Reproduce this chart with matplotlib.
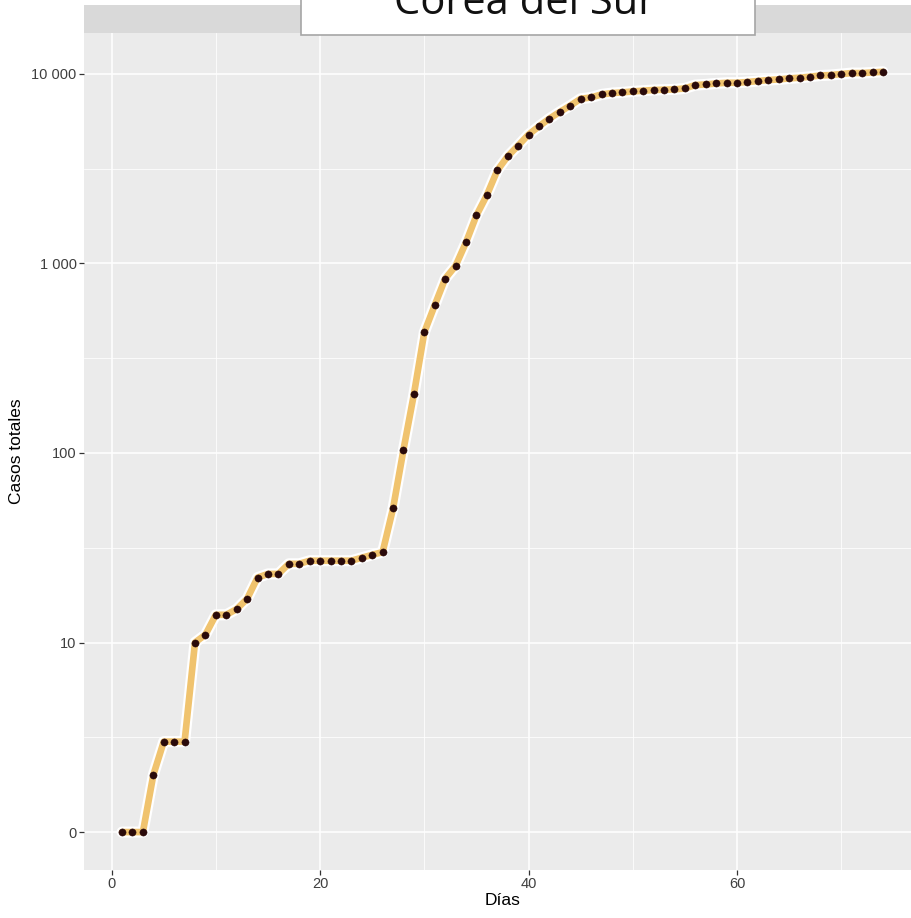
import matplotlib
matplotlib.use("Agg")
import matplotlib.pyplot as plt
from matplotlib.patches import Rectangle
from matplotlib.ticker import FixedLocator, NullFormatter

# Cumulative confirmed cases, South Korea, by day since first record
days = list(range(1, 75))
cases = [1, 1, 1, 2, 3, 3, 3, 10, 11, 14,
         14, 15, 17, 22, 23, 23, 26, 26, 27, 27,
         27, 27, 27, 28, 29, 30, 51, 104, 204, 433,
         602, 830, 970, 1290, 1790, 2290, 3090, 3670, 4180, 4780,
         5280, 5800, 6290, 6790, 7380, 7500, 7780, 7910, 7975, 8070,
         8140, 8210, 8240, 8270, 8370, 8720, 8785, 8890, 8965, 8965,
         9045, 9155, 9265, 9335, 9450, 9530, 9645, 9795, 9845, 9965,
         10085, 10085, 10160, 10245]

y_major = [1, 10, 100, 1000, 10000]
y_labels = ["0", "10", "100", "1 000", "10 000"]
y_minor = [10 ** 0.5, 10 ** 1.5, 10 ** 2.5, 10 ** 3.5]
x_major = [0, 20, 40, 60]
x_minor = [10, 30, 50, 70]

title = "Corea del Sur"
xlabel = "Días"
ylabel = "Casos totales"

W, H = 912, 918
fig = plt.figure(figsize=(W / 100, H / 100), dpi=100)
fig.patch.set_facecolor("white")

# panel in pixel coordinates (extends slightly past the right edge)
px_left, px_right, px_top, px_bottom = 84, 921, 33, 870
ax = fig.add_axes([px_left / W, (H - px_bottom) / H,
                   (px_right - px_left) / W, (px_bottom - px_top) / H])
ax.set_facecolor("#EBEBEB")
for s in ax.spines.values():
    s.set_visible(False)

ax.set_yscale("log")
ax.set_xlim(-2.65, 77.65)
ax.set_ylim(10 ** -0.2, 10 ** 4.215)

ax.yaxis.set_major_locator(FixedLocator(y_major))
ax.set_yticklabels(y_labels)
ax.yaxis.set_minor_locator(FixedLocator(y_minor))
ax.yaxis.set_minor_formatter(NullFormatter())
ax.xaxis.set_major_locator(FixedLocator(x_major))
ax.xaxis.set_minor_locator(FixedLocator(x_minor))

ax.grid(which="major", color="white", linewidth=1.1)
ax.grid(which="minor", color="white", linewidth=0.55)
ax.set_axisbelow(True)

ax.tick_params(which="major", length=3.5, width=0.9, color="#333333",
               labelsize=10.5, labelcolor="#3F3F3F", pad=1.8)
ax.tick_params(which="minor", length=0)
for lab in ax.get_xticklabels() + ax.get_yticklabels():
    lab.set_family("Liberation Sans")

ax.set_xlabel(xlabel, fontsize=12.5, family="Liberation Sans", color="black", labelpad=1.0)
ax.set_ylabel(ylabel, fontsize=12.5, family="Liberation Sans", color="black", labelpad=5)

# series: white halo, tan line, dark points
ax.plot(days, cases, color="white", linewidth=8, solid_capstyle="round",
        solid_joinstyle="round", zorder=2)
ax.plot(days, cases, color="#F0C36E", linewidth=4.8, solid_capstyle="round",
        solid_joinstyle="round", zorder=3)
ax.plot(days, cases, linestyle="none", marker="o", markersize=5.2,
        markerfacecolor="#2A0A0A", markeredgecolor="#2A0A0A",
        markeredgewidth=0.3, zorder=4)

# facet strip along the top of the panel
strip_top = 5
fig.patches.append(Rectangle((px_left / W, (H - px_top) / H),
                             (px_right - px_left) / W, (px_top - strip_top) / H,
                             transform=fig.transFigure, facecolor="#D9D9D9",
                             edgecolor="none", zorder=1))

# title box overlapping the strip
bx0, bx1, by1 = 301, 755, 35
fig.patches.append(Rectangle((bx0 / W, (H - by1) / H),
                             (bx1 - bx0) / W, (by1 + 10) / H,
                             transform=fig.transFigure, facecolor="white",
                             edgecolor="#A6A6A6", linewidth=1.2, zorder=5))
fig.text(525 / W, (H - 14) / H, title, ha="center", va="baseline",
         fontsize=30, family="Open Sans", color="#111111", zorder=6)

fig.savefig("out.png", dpi=100)
